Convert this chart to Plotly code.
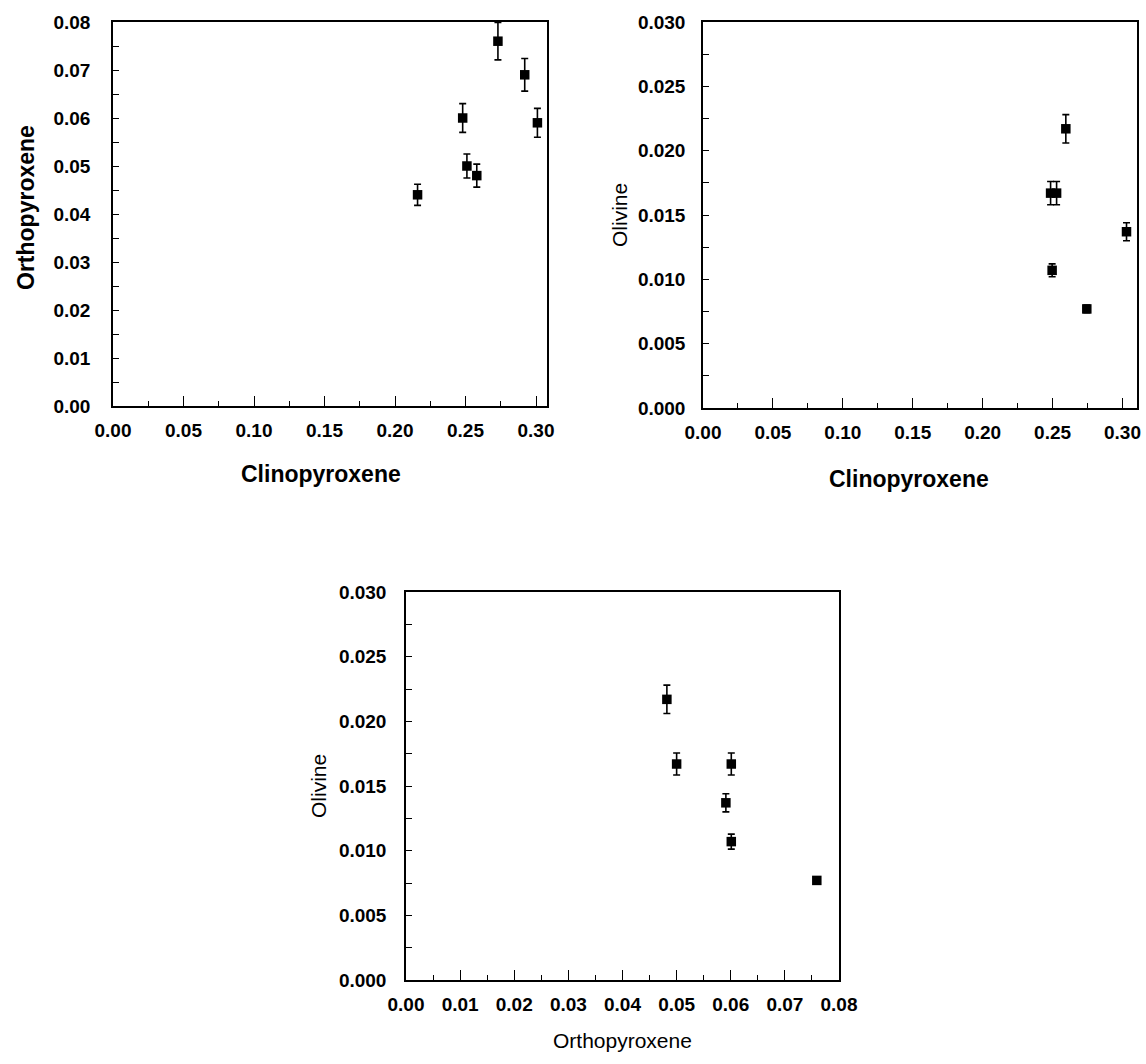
import plotly.graph_objects as go

# Mineral modal fractions with 1-sigma uncertainties
# Panel 1: orthopyroxene vs clinopyroxene
cpx_1 = [0.216, 0.248, 0.251, 0.258, 0.273, 0.292, 0.301]
opx_1 = [0.044, 0.060, 0.050, 0.048, 0.076, 0.069, 0.059]
opx_1_err = [0.0022, 0.0030, 0.0025, 0.0024, 0.0039, 0.0034, 0.0030]

# Panel 2: olivine vs clinopyroxene
cpx_2 = [0.2595, 0.2486, 0.2529, 0.3029, 0.2497, 0.2745]
ol_2 = [0.0217, 0.0167, 0.0167, 0.0137, 0.0107, 0.0077]
ol_2_err = [0.0011, 0.0009, 0.0009, 0.0007, 0.0005, 0.0003]

# Panel 3: olivine vs orthopyroxene
opx_3 = [0.0482, 0.0500, 0.0601, 0.0591, 0.0601, 0.0759]
ol_3 = [0.0217, 0.0167, 0.0167, 0.0137, 0.0107, 0.0077]
ol_3_err = [0.0011, 0.00085, 0.00085, 0.0007, 0.00058, 0.0002]

W, H = 1146, 1064
FONT = "Liberation Sans, Arial, sans-serif"


def px_x(a, b):
    return [a / W, b / W]


def px_y(top, bottom):
    return [1 - bottom / H, 1 - top / H]


fig = go.Figure()

marker = dict(symbol="square", size=9.5, color="black")
err_style = dict(type="data", color="black", thickness=1.6, width=3.5)

fig.add_trace(go.Scatter(x=cpx_1, y=opx_1, mode="markers", marker=marker,
                         error_y=dict(array=opx_1_err, **err_style),
                         xaxis="x", yaxis="y", showlegend=False))
fig.add_trace(go.Scatter(x=cpx_2, y=ol_2, mode="markers", marker=marker,
                         error_y=dict(array=ol_2_err, **err_style),
                         xaxis="x2", yaxis="y2", showlegend=False))
fig.add_trace(go.Scatter(x=opx_3, y=ol_3, mode="markers", marker=marker,
                         error_y=dict(array=ol_3_err, **err_style),
                         xaxis="x3", yaxis="y3", showlegend=False))

tickfont = dict(family=FONT, size=19, color="black", weight="bold")


def xaxis(domain, rng, dtick, minor, anchor, fmt):
    return dict(domain=domain, range=rng, anchor=anchor, dtick=dtick, tick0=0,
                tickformat=fmt, showgrid=False, zeroline=False, automargin=False,
                showline=True, mirror=True, linecolor="black", linewidth=1.5,
                ticks="inside", ticklen=10, tickwidth=1.2, tickcolor="black",
                minor=dict(dtick=minor, ticks="inside", ticklen=5,
                           tickwidth=1.2, tickcolor="black", showgrid=False),
                tickfont=tickfont, ticklabelstandoff=6)


def yaxis(domain, rng, dtick, minor, anchor, fmt, standoff):
    return dict(domain=domain, range=rng, anchor=anchor, dtick=dtick, tick0=0,
                tickformat=fmt, showgrid=False, zeroline=False, automargin=False,
                showline=True, mirror=True, linecolor="black", linewidth=1.5,
                ticks="inside", ticklen=6, tickwidth=1.2, tickcolor="black",
                minor=dict(dtick=minor, ticks="inside", ticklen=6,
                           tickwidth=1.2, tickcolor="black", showgrid=False),
                tickfont=tickfont, ticklabelstandoff=standoff)


fig.update_layout(
    width=W, height=H,
    margin=dict(l=0, r=0, t=0, b=0, autoexpand=False),
    paper_bgcolor="white", plot_bgcolor="white",
    xaxis=xaxis(px_x(113, 547), [0, 0.3078], 0.05, 0.025, "y", ".2f"),
    yaxis=yaxis(px_y(22, 406), [0, 0.08], 0.01, 0.005, "x", ".2f", 17),
    xaxis2=xaxis(px_x(703, 1137), [0, 0.3104], 0.05, 0.025, "y2", ".2f"),
    yaxis2=yaxis(px_y(22, 408), [0, 0.030], 0.005, 0.0025, "x2", ".3f", 12),
    xaxis3=xaxis(px_x(406, 839), [0, 0.08], 0.01, 0.005, "y3", ".2f"),
    yaxis3=yaxis(px_y(592, 980), [0, 0.030], 0.005, 0.0025, "x3", ".3f", 14),
)

bold = dict(family=FONT, size=23, color="black", weight="bold")
plain = dict(family=FONT, size=21, color="black")


def label(text, x, y, font, angle=0):
    fig.add_annotation(text=text, x=x / W, y=1 - y / H, xref="paper", yref="paper",
                       showarrow=False, textangle=angle, font=font,
                       xanchor="center", yanchor="middle")


label("Clinopyroxene", 321, 474, bold)
label("Orthopyroxene", 26, 208, bold, -90)
label("Clinopyroxene", 909, 479, bold)
label("Olivine", 619, 215, plain, -90)
label("Orthopyroxene", 622, 1040, plain)
label("Olivine", 318, 786, plain, -90)

fig.write_html("out.html")
